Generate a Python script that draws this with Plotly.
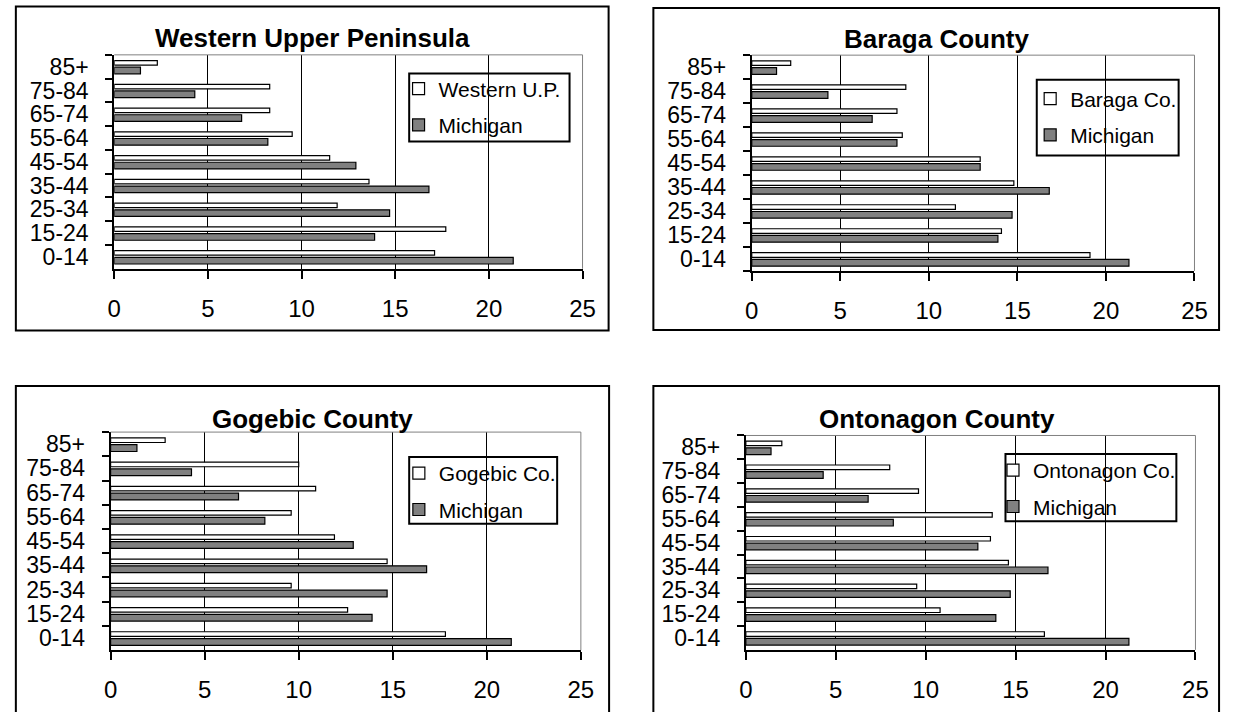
import plotly.graph_objects as go

# Age structure (% of population) by age group
age_groups = ["0-14", "15-24", "25-34", "35-44", "45-54", "55-64", "65-74", "75-84", "85+"]
michigan = [21.3, 13.9, 14.7, 16.8, 12.9, 8.2, 6.8, 4.3, 1.4]
western_up = [17.1, 17.7, 11.9, 13.6, 11.5, 9.5, 8.3, 8.3, 2.3]
baraga = [19.1, 14.1, 11.5, 14.8, 12.9, 8.5, 8.2, 8.7, 2.2]
gogebic = [17.8, 12.6, 9.6, 14.7, 11.9, 9.6, 10.9, 10.0, 2.9]
ontonagon = [16.6, 10.8, 9.5, 14.6, 13.6, 13.7, 9.6, 8.0, 2.0]

titles = ["Western Upper Peninsula", "Baraga County", "Gogebic County", "Ontonagon County"]
region_names = ["Western U.P.", "Baraga Co.", "Gogebic Co.", "Ontonagon Co."]
region_values = [western_up, baraga, gogebic, ontonagon]
x_ticks = [0, 5, 10, 15, 20, 25]

W, H = 1236, 712
FONT = "Liberation Sans, Arial, sans-serif"


def px_x(v):
    return v / W


def px_y(v):
    return 1 - v / H


# panel geometry in page pixels
panels = [
    dict(plot=(109, 585, 54, 268.5), frame=(9, 611.5, 5.5, 330.5), title=(310.5, 36.7),
         legend=(408.8, 571.8, 72.7, 141), legend_text=(437, 91.7)),
    dict(plot=(757, 1207, 54.3, 270.7), frame=(657, 1232, 7, 330), title=(945, 38.3),
         legend=(1046.7, 1190.9, 79, 155), legend_text=(1079, 101.7)),
    dict(plot=(105.3, 583.3, 432.3, 651), frame=(9, 612, 386, 740), title=(311, 419),
         legend=(408.8, 559.2, 457.3, 524.3), legend_text=(437.3, 477.3)),
    dict(plot=(751, 1208, 435.7, 650.7), frame=(657, 1232, 386, 740), title=(945, 419),
         legend=(1014.9, 1188.6, 454.3, 521.7), legend_text=(1041.2, 474.3)),
]

fig = go.Figure()
shapes = []
annotations = []
layout = dict(
    width=W, height=H, margin=dict(l=0, r=0, t=0, b=0),
    paper_bgcolor="white", plot_bgcolor="white",
    barmode="overlay", font=dict(family=FONT, color="black"),
)

for i, p in enumerate(panels):
    n = i + 1
    xa = "x" if n == 1 else f"x{n}"
    ya = "y" if n == 1 else f"y{n}"
    leg = "legend" if n == 1 else f"legend{n}"

    fig.add_trace(go.Bar(
        y=age_groups, x=region_values[i], orientation="h", name=region_names[i],
        xaxis=xa, yaxis=ya, legend=leg, legendgroup=f"r{n}",
        offset=0.07, width=0.19,
        marker=dict(color="white", line=dict(color="black", width=1.2)),
        hoverinfo="x+y",
    ))
    fig.add_trace(go.Bar(
        y=age_groups, x=michigan, orientation="h", name="Michigan",
        xaxis=xa, yaxis=ya, legend=leg, legendgroup=f"m{n}",
        offset=-0.30, width=0.28,
        marker=dict(color="#808080", line=dict(color="black", width=1.2)),
        hoverinfo="x+y",
    ))

    x0, x1, y0, y1 = p["plot"]
    layout[f"xaxis{'' if n == 1 else n}"] = dict(
        domain=[px_x(x0), px_x(x1)], anchor=ya, range=[0, 25],
        tickmode="array", tickvals=x_ticks, ticktext=[str(t) for t in x_ticks],
        ticks="outside", ticklen=8, tickwidth=2, tickcolor="black",
        showline=True, linewidth=2, linecolor="black",
        showgrid=True, gridcolor="black", gridwidth=1, zeroline=False,
        tickfont=dict(size=24, family=FONT, color="black"),
        ticklabelstandoff=9, fixedrange=True,
    )
    layout[f"yaxis{'' if n == 1 else n}"] = dict(
        domain=[px_y(y1), px_y(y0)], anchor=xa, type="category",
        categoryorder="array", categoryarray=age_groups,
        range=[-0.5, len(age_groups) - 0.5],
        tickmode="array", tickvals=age_groups, ticktext=age_groups,
        ticks="outside", tickson="boundaries", ticklen=7, tickwidth=2, tickcolor="black",
        showline=True, linewidth=2, linecolor="black", showgrid=False, zeroline=False,
        tickfont=dict(size=23, family=FONT, color="black"),
        ticklabelstandoff=19, fixedrange=True,
    )

    # gray plot-area border along the top and right edges
    shapes.append(dict(type="line", xref=f"{xa} domain", yref=f"{ya} domain",
                       x0=0, x1=1, y0=1, y1=1, line=dict(color="#808080", width=1), layer="above"))
    shapes.append(dict(type="line", xref=f"{xa} domain", yref=f"{ya} domain",
                       x0=1, x1=1, y0=0, y1=1, line=dict(color="#808080", width=1), layer="above"))

    # chart frame
    fx0, fx1, fy0, fy1 = p["frame"]
    shapes.append(dict(type="rect", xref="paper", yref="paper",
                       x0=px_x(fx0), x1=px_x(fx1), y0=px_y(fy1), y1=px_y(fy0),
                       line=dict(color="black", width=2), layer="above"))

    # legend box
    lx0, lx1, ly0, ly1 = p["legend"]
    shapes.append(dict(type="rect", xref="paper", yref="paper",
                       x0=px_x(lx0), x1=px_x(lx1), y0=px_y(ly1), y1=px_y(ly0),
                       line=dict(color="black", width=2), fillcolor="white", layer="below"))

    tx, ty = p["legend_text"]
    layout[leg] = dict(
        x=px_x(tx - 39), y=px_y(ty - 24), xanchor="left", yanchor="top",
        bgcolor="rgba(0,0,0,0)", borderwidth=0, tracegroupgap=6,
        traceorder="grouped", font=dict(size=21, family=FONT, color="black"),
    )

    cx, cy = p["title"]
    annotations.append(dict(
        text=f"<b>{titles[i]}</b>", xref="paper", yref="paper",
        x=px_x(cx), y=px_y(cy), xanchor="center", yanchor="middle",
        showarrow=False, font=dict(size=26, family=FONT, color="black"),
    ))

layout["shapes"] = shapes
layout["annotations"] = annotations
fig.update_layout(**layout)
fig.write_html(
    "out.html",
    post_script="document.body.style.margin='0';document.body.style.overflow='hidden';",
)
